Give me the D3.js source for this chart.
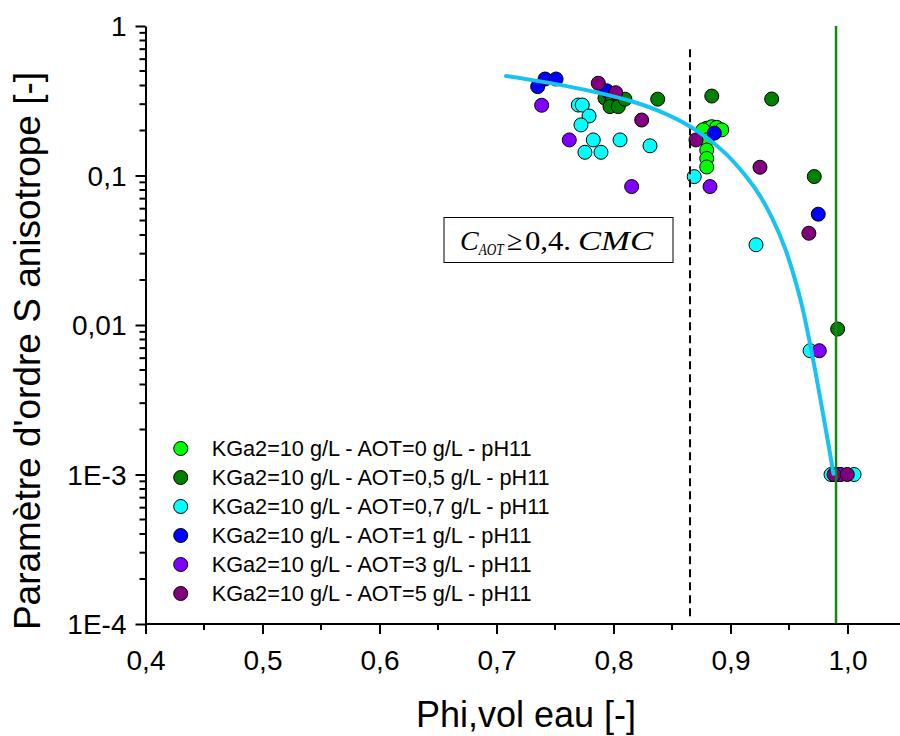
<!DOCTYPE html>
<html>
<head>
<meta charset="utf-8">
<script src="https://cdn.jsdelivr.net/npm/d3@7"></script>
<style>
  html, body { margin: 0; padding: 0; background: #fff; }
  svg { display: block; }
</style>
</head>
<body>
<svg id="chart" width="900" height="736"></svg>
<script>
// ---------------- DATA ----------------
const seriesNames = [
  "KGa2=10 g/L - AOT=0 g/L - pH11",
  "KGa2=10 g/L - AOT=0,5 g/L - pH11",
  "KGa2=10 g/L - AOT=0,7 g/L - pH11",
  "KGa2=10 g/L - AOT=1 g/L - pH11",
  "KGa2=10 g/L - AOT=3 g/L - pH11",
  "KGa2=10 g/L - AOT=5 g/L - pH11"
];
const seriesColors = ["#00ff00", "#007f00", "#00ffff", "#0000ff", "#8000ff", "#800080"];

const aot0X  = [0.8797, 0.8840, 0.8882, 0.8925, 0.8765, 0.8797, 0.8797, 0.8797, 0.8797, 0.9930];
const aot0Y  = [0.207, 0.212, 0.210, 0.202, 0.202, 0.173, 0.148, 0.130, 0.114, 0.001];

const aot05X = [0.7927, 0.7985, 0.7970, 0.8041, 0.8098, 0.8378, 0.8840, 0.9352, 0.9716, 0.9916, 0.9910];
const aot05Y = [0.329, 0.312, 0.289, 0.289, 0.324, 0.324, 0.340, 0.325, 0.0984, 0.0094, 0.001];

const aot07X = [0.7699, 0.7733, 0.7791, 0.7722, 0.7827, 0.7756, 0.7893, 0.8056, 0.8312, 0.8690, 0.9218, 0.9680, 0.9859, 1.0056];
const aot07Y = [0.296, 0.296, 0.250, 0.218, 0.173, 0.143, 0.143, 0.173, 0.158, 0.0983, 0.0344, 0.00673, 0.001, 0.001];

const aot1X  = [0.7352, 0.7415, 0.7509, 0.7942, 0.8862, 0.9750, 0.9940];
const aot1Y  = [0.393, 0.442, 0.442, 0.369, 0.192, 0.0551, 0.001];

const aot3X  = [0.7386, 0.7622, 0.8155, 0.8825, 0.9759, 0.9935];
const aot3Y  = [0.295, 0.173, 0.0843, 0.0843, 0.00673, 0.001];

const aot5X  = [0.7870, 0.8019, 0.8241, 0.8705, 0.9252, 0.9670, 0.9885, 0.9998];
const aot5Y  = [0.414, 0.358, 0.235, 0.173, 0.1136, 0.0411, 0.001, 0.001];

const fitX = [0.7081, 0.7372, 0.7600, 0.7885, 0.8167, 0.8397, 0.8654, 0.8825, 0.8970, 0.9167, 0.9252, 0.9355, 0.9466, 0.9594, 0.9680, 0.9765, 0.9833, 0.9880];
const fitY = [0.4633, 0.4263, 0.3960, 0.3554, 0.3113, 0.2683, 0.2129, 0.1721, 0.1373, 0.0913, 0.0731, 0.0521, 0.0326, 0.01520, 0.00748, 0.00331, 0.001657, 0.00101];

const xTicks = [0.4, 0.5, 0.6, 0.7, 0.8, 0.9, 1.0];
const xTickLabels = ["0,4", "0,5", "0,6", "0,7", "0,8", "0,9", "1,0"];
const yTicks = [1e-4, 1e-3, 1e-2, 1e-1, 1];
const yTickLabels = ["1E-4", "1E-3", "0,01", "0,1", "1"];

const dashedLineX = 0.8654;
const greenLineX = 0.9902;

const xLabel = "Phi,vol eau [-]";
const yLabel = "Paramètre d'ordre S anisotrope [-]";

// --------------- DRAWING ---------------
const seriesX = [aot0X, aot05X, aot07X, aot1X, aot3X, aot5X];
const seriesY = [aot0Y, aot05Y, aot07Y, aot1Y, aot3Y, aot5Y];

const svg = d3.select("#chart");
const x = d3.scaleLinear().domain([0.4, 1.05]).range([145.5, 906]);
const y = d3.scaleLog().domain([1e-4, 1]).range([624, 26]);
const font = "'Liberation Sans', Arial, sans-serif";

// points
seriesX.forEach((xs, si) => {
  const pts = xs.map((v, i) => ({x: v, y: seriesY[si][i]}));
  svg.append("g").selectAll("circle").data(pts).join("circle")
    .attr("cx", d => x(d.x)).attr("cy", d => y(d.y)).attr("r", 7)
    .attr("fill", seriesColors[si]).attr("stroke", "#000").attr("stroke-width", 1);
});

// reference lines
svg.append("line")
  .attr("x1", x(dashedLineX)).attr("x2", x(dashedLineX))
  .attr("y1", y(0.7)).attr("y2", y(1.08e-4))
  .attr("stroke", "#000").attr("stroke-width", 2).attr("stroke-dasharray", "8,5");
svg.append("line")
  .attr("x1", x(greenLineX)).attr("x2", x(greenLineX))
  .attr("y1", y(1)).attr("y2", y(1e-4))
  .attr("stroke", "#128a12").attr("stroke-width", 2.5);

// fit curve
const fitPts = fitX.map((v, i) => [v, fitY[i]]);
svg.append("path").datum(fitPts)
  .attr("fill", "none").attr("stroke", "#17c3f2").attr("stroke-width", 4)
  .attr("stroke-linecap", "round")
  .attr("d", d3.line().x(d => x(d[0])).y(d => y(d[1])).curve(d3.curveCatmullRom.alpha(0.5)));

// axes
const xAxis = d3.axisBottom(x).tickValues(xTicks).tickFormat((d, i) => xTickLabels[i]).tickSize(10).tickSizeOuter(0);
const gx = svg.append("g").attr("transform", "translate(0,624)").call(xAxis);
gx.select(".domain").attr("stroke-width", 2).attr("d", "M145.5,0H906");
gx.selectAll(".tick line").attr("stroke-width", 2);
gx.selectAll(".tick text").attr("font-family", font).attr("font-size", 28).attr("fill", "#000").attr("dy", null).attr("y", 46);
const xMinor = [0.45, 0.55, 0.65, 0.75, 0.85, 0.95, 1.05];
svg.append("g").selectAll("line").data(xMinor).join("line")
  .attr("x1", d => x(d)).attr("x2", d => x(d)).attr("y1", 624).attr("y2", 630)
  .attr("stroke", "#000").attr("stroke-width", 2);

const yAxis = d3.axisLeft(y).tickValues(yTicks).tickFormat((d, i) => yTickLabels[i]).tickSize(10).tickSizeOuter(0);
const gy = svg.append("g").attr("transform", "translate(145.5,0)").call(yAxis);
gy.select(".domain").attr("stroke-width", 2);
gy.selectAll(".tick line").attr("stroke-width", 2);
gy.selectAll(".tick text").attr("font-family", font).attr("font-size", 28).attr("fill", "#000").attr("x", -19).attr("dy", "0.35em");
const yMinor = [];
[1e-4, 1e-3, 1e-2, 1e-1].forEach(b => { for (let k = 2; k <= 9; k++) yMinor.push(b * k); });
svg.append("g").selectAll("line").data(yMinor).join("line")
  .attr("x1", 145.5).attr("x2", 139.5).attr("y1", d => y(d)).attr("y2", d => y(d))
  .attr("stroke", "#000").attr("stroke-width", 2);

// axis titles
svg.append("text").attr("x", 526).attr("y", 727).attr("text-anchor", "middle")
  .attr("font-family", font).attr("font-size", 36).text(xLabel);
svg.append("text").attr("transform", "translate(40,351) rotate(-90)").attr("text-anchor", "middle")
  .attr("font-family", font).attr("font-size", 37).text(yLabel);

// legend
const leg = svg.append("g");
seriesNames.forEach((name, i) => {
  const cy = 448.5 + i * 29;
  leg.append("circle").attr("cx", 180.7).attr("cy", cy).attr("r", 7)
    .attr("fill", seriesColors[i]).attr("stroke", "#000").attr("stroke-width", 1);
  leg.append("text").attr("x", 211.7).attr("y", cy + 7.8)
    .attr("font-family", font).attr("font-size", 21.7).attr("fill", "#000").text(name);
});

// annotation box
svg.append("rect").attr("x", 444).attr("y", 217.5).attr("width", 229).attr("height", 45)
  .attr("fill", "#fff").attr("stroke", "#000").attr("stroke-width", 1);
const ann = svg.append("text").attr("y", 250)
  .attr("font-family", "'Liberation Serif', 'DejaVu Serif', serif").attr("font-size", 28);
ann.append("tspan").attr("x", 460).attr("font-style", "italic").text("C");
ann.append("tspan").attr("font-style", "italic").attr("font-size", 16.5).attr("dy", 5)
  .attr("textLength", 25).attr("lengthAdjust", "spacingAndGlyphs").text("AOT");
ann.append("tspan").attr("x", 507).attr("dy", -5).text("\u2265");
ann.append("tspan").attr("x", 525).attr("textLength", 46).attr("lengthAdjust", "spacingAndGlyphs").text("0,4.");
ann.append("tspan").attr("x", 578).attr("font-style", "italic")
  .attr("textLength", 75).attr("lengthAdjust", "spacingAndGlyphs").text("CMC");
</script>
</body>
</html>
